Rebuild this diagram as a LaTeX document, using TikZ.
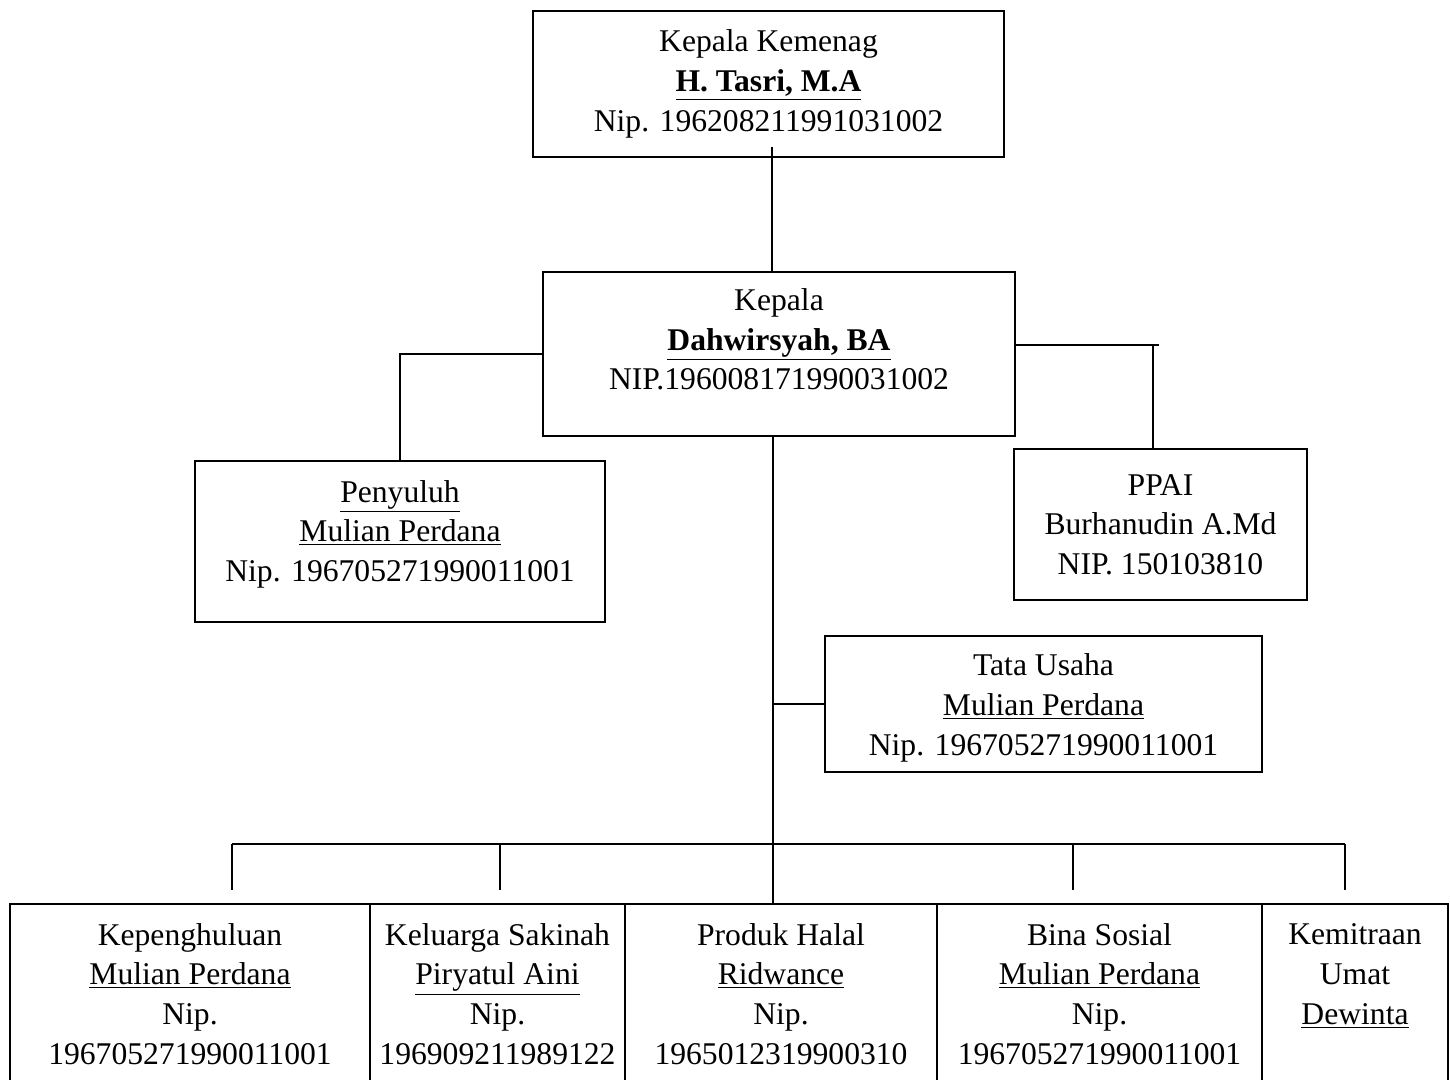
\documentclass[tikz,border=0pt]{standalone}
\usepackage{fontspec}
\setmainfont{Liberation Serif}
\begin{document}
\begin{tikzpicture}[x=0.02cm,y=-0.02cm,line width=1.1pt,
    every node/.style={font=\fontsize{18}{22.6}\selectfont,align=center},
    box/.style={draw,line width=1.1pt,inner sep=0pt},
    cell/.style={box,minimum height=3.6cm}]
  \useasboundingbox (0,0) rectangle (1450,1079);
  \clip (0,0) rectangle (1450,1079);
  % boxes
  \node[box,minimum width=9.42cm,minimum height=2.92cm] (top) at (768.5,84)
    {Kepala Kemenag\\\textbf{\underline{H. Tasri, M.A}}\\Nip. 196208211991031002};
  \node[box,minimum width=9.44cm,minimum height=3.28cm,text depth=17pt] (kepala) at (779,354)
    {Kepala\\\textbf{\underline{Dahwirsyah, BA}}\\NIP.196008171990031002};
  \node[box,minimum width=8.2cm,minimum height=3.22cm,text depth=12pt] (penyuluh) at (400,541.5)
    {\underline{Penyuluh}\\\underline{Mulian Perdana}\\Nip. 196705271990011001};
  \node[box,minimum width=5.86cm,minimum height=3.02cm] (ppai) at (1160.5,524.5)
    {PPAI\\Burhanudin A.Md\\NIP. 150103810};
  \node[box,minimum width=8.74cm,minimum height=2.72cm,text height=62pt] (tata) at (1043.5,704)
    {Tata Usaha\\\underline{Mulian Perdana}\\Nip. 196705271990011001};
  \node[cell,minimum width=7.2cm] (kep) at (190,994)
    {Kepenghuluan\\\underline{Mulian Perdana}\\Nip.\\196705271990011001};
  \node[cell,minimum width=5.1cm] (kel) at (497.5,994)
    {Keluarga Sakinah\\\underline{Piryatul Aini}\\Nip.\\196909211989122};
  \node[cell,minimum width=6.24cm] (pro) at (781,994)
    {Produk Halal\\\underline{Ridwance}\\Nip.\\1965012319900310};
  \node[cell,minimum width=6.5cm] (bin) at (1099.5,994)
    {Bina Sosial\\\underline{Mulian Perdana}\\Nip.\\196705271990011001};
  \node[cell,minimum width=3.72cm] (kem) at (1355,994)
    {Kemitraan\\Umat\\\underline{Dewinta}\\\mbox{}};
  % helper points
  \coordinate (t1) at (772,147);
  \coordinate (trunk) at (773,0);
  \coordinate (pp) at (1153,345);
  \coordinate (bus) at (0,844);
  \coordinate (d1) at (232,890);
  \coordinate (d2) at (500,890);
  \coordinate (d3) at (1073,890);
  \coordinate (d4) at (1345,890);
  % connectors
  \draw (t1) -- (t1 |- kepala.north);
  \draw (kepala.west) -| (penyuluh.north);
  \draw (kepala.east |- pp) -- ++(143,0);
  \draw (pp) -- (pp |- ppai.north);
  \draw (kepala.south -| trunk) -- (pro.north -| trunk);
  \draw (trunk |- tata.west) -- (tata.west);
  \draw (d1 |- bus) -- (d4 |- bus);
  \draw (d1 |- bus) -- (d1);
  \draw (d2 |- bus) -- (d2);
  \draw (d3 |- bus) -- (d3);
  \draw (d4 |- bus) -- (d4);
\end{tikzpicture}
\end{document}
